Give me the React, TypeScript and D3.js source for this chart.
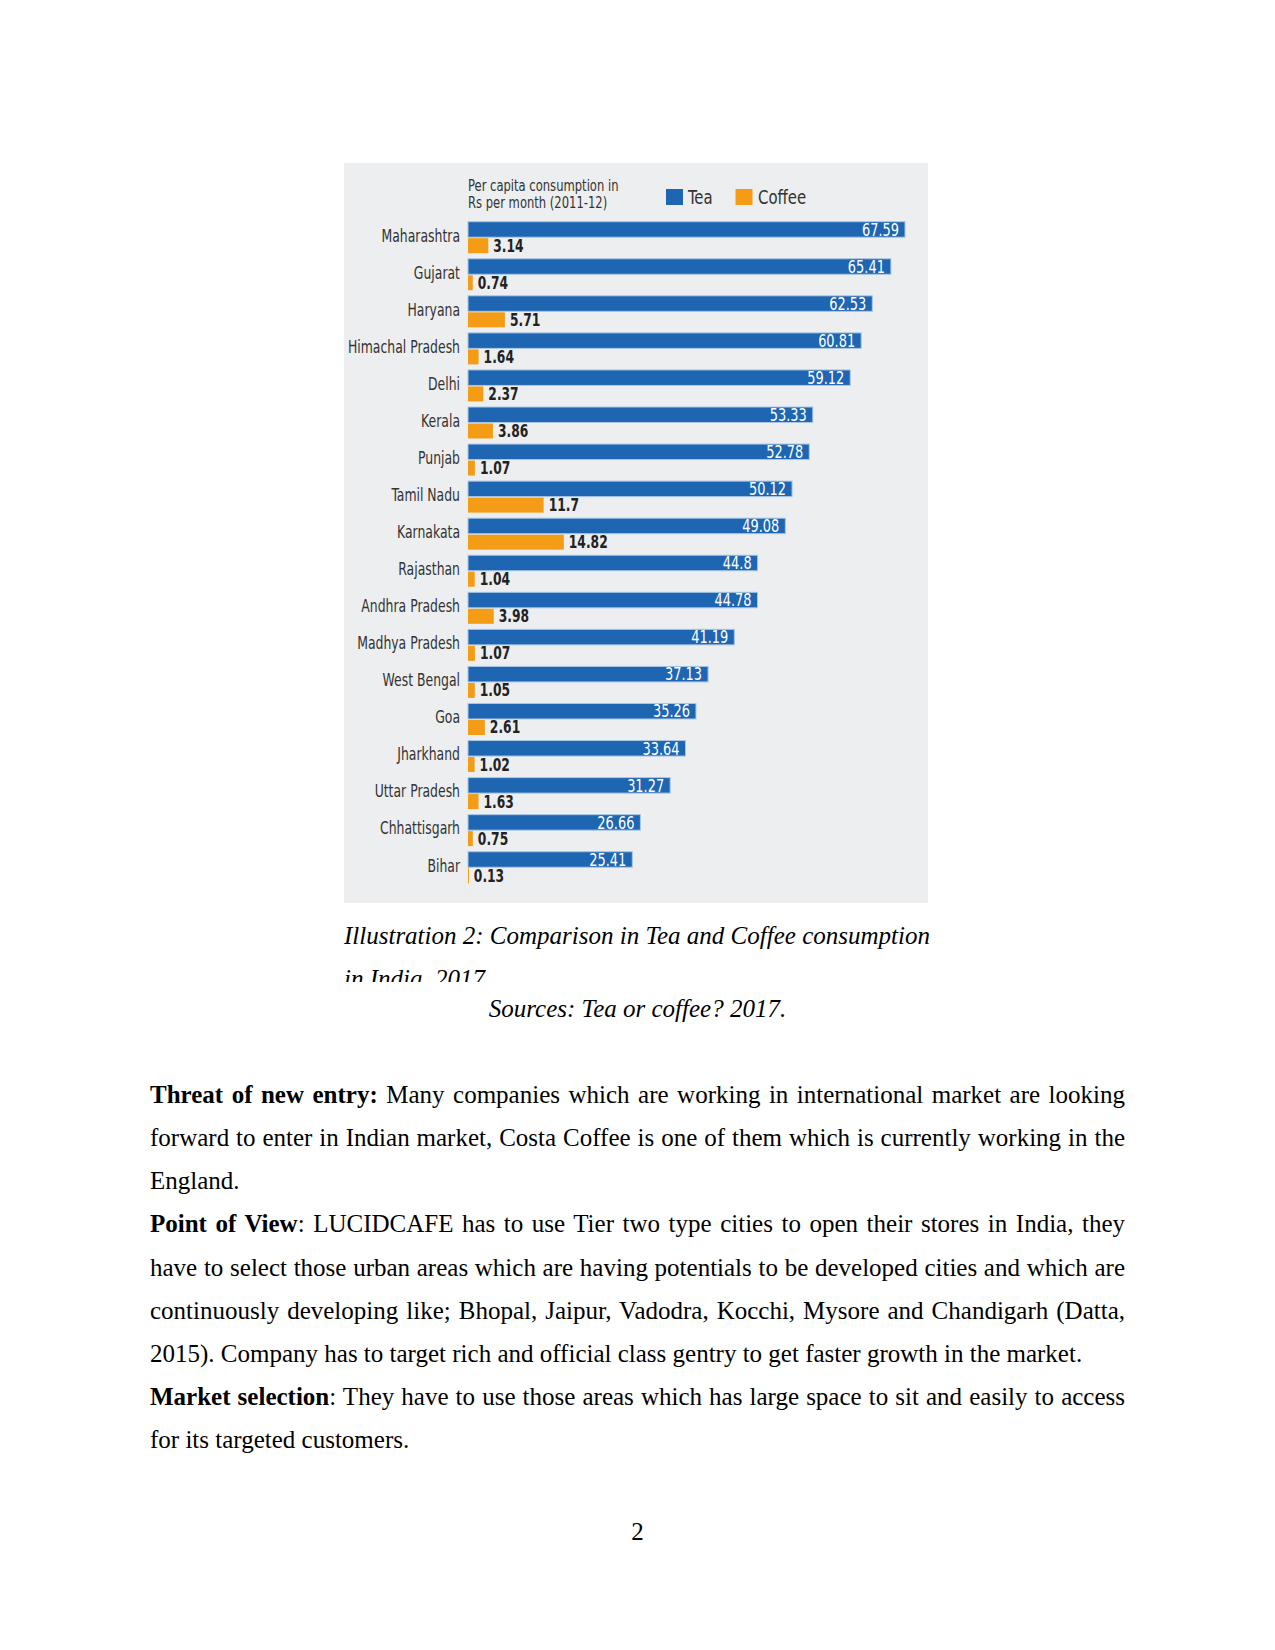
import React, { useEffect, useRef } from "react";
import * as d3 from "d3";

const states = [
  "Maharashtra", "Gujarat", "Haryana", "Himachal Pradesh", "Delhi", "Kerala",
  "Punjab", "Tamil Nadu", "Karnakata", "Rajasthan", "Andhra Pradesh",
  "Madhya Pradesh", "West Bengal", "Goa", "Jharkhand", "Uttar Pradesh",
  "Chhattisgarh", "Bihar",
];
const teaValues = [
  67.59, 65.41, 62.53, 60.81, 59.12, 53.33, 52.78, 50.12, 49.08, 44.8, 44.78,
  41.19, 37.13, 35.26, 33.64, 31.27, 26.66, 25.41,
];
const coffeeValues = [
  3.14, 0.74, 5.71, 1.64, 2.37, 3.86, 1.07, 11.7, 14.82, 1.04, 3.98, 1.07,
  1.05, 2.61, 1.02, 1.63, 0.75, 0.13,
];
const seriesNames = ["Tea", "Coffee"];
const headerLines = ["Per capita consumption in", "Rs per month (2011-12)"];

const captionLines = [
  "Illustration 2: Comparison in Tea and Coffee consumption",
  "in India, 2017",
];
const sourceText = "Sources: Tea or coffee? 2017.";

const bodyLines = [
  { bold: "Threat of new entry:", rest: " Many companies which are working in international market are looking", justify: true },
  { bold: "", rest: "forward to enter in Indian market, Costa Coffee is one of them which is currently working in the", justify: true },
  { bold: "", rest: "England.", justify: false },
  { bold: "Point of View", rest: ": LUCIDCAFE has to use Tier two type cities to open their stores in India, they", justify: true },
  { bold: "", rest: "have to select those urban areas which are having potentials to be developed cities and which are", justify: true },
  { bold: "", rest: "continuously developing like; Bhopal, Jaipur, Vadodra, Kocchi, Mysore and Chandigarh (Datta,", justify: true },
  { bold: "", rest: "2015). Company has to target rich and official class gentry to get faster growth in the market.", justify: false },
  { bold: "Market selection", rest: ": They have to use those areas which has large space to sit and easily to access", justify: true },
  { bold: "", rest: "for its targeted customers.", justify: false },
];

const TEA = "#1e65b2";
const COFFEE = "#f59c17";
const chartFont = "'DejaVu Sans Condensed', 'DejaVu Sans', sans-serif";
const serif = "'Liberation Serif', 'DejaVu Serif', serif";

function NText(props: {
  x: number;
  y: number;
  sx: number;
  anchor?: string;
  size: number;
  fill: string;
  weight?: string;
  children: React.ReactNode;
}) {
  return (
    <text
      transform={`translate(${props.x},${props.y}) scale(${props.sx},1)`}
      dy="0.36em"
      textAnchor={props.anchor || "start"}
      fontFamily={chartFont}
      fontSize={props.size}
      fontWeight={props.weight || "normal"}
      fill={props.fill}
    >
      {props.children}
    </text>
  );
}

export default function App() {
  const ref = useRef<SVGSVGElement>(null);

  const x = d3.scaleLinear().domain([0, 67.59]).range([468, 905]);
  const y = d3
    .scaleBand<string>()
    .domain(states)
    .range([221.7, 221.7 + 37.06 * states.length])
    .padding(0);
  const rows = states.map((s, i) => ({ s, tea: teaValues[i], coffee: coffeeValues[i] }));

  const textLeft = 150;
  const textRight = 1125;
  const lineY = d3.scaleLinear().domain([0, 1]).range([1103, 1146.13]);

  useEffect(() => {
    if (!ref.current) return;
    d3.select(ref.current)
      .selectAll<SVGTextElement, unknown>("text.justify")
      .each(function () {
        const el = this;
        el.style.wordSpacing = "0px";
        const w = el.getComputedTextLength();
        const txt = el.textContent || "";
        const spaces = (txt.match(/ /g) || []).length;
        if (spaces > 0) {
          el.style.wordSpacing = `${(textRight - textLeft - w) / spaces}px`;
        }
      });
  }, []);

  return (
    <svg
      ref={ref}
      width={1275}
      height={1650}
      style={{ position: "absolute", left: 0, top: 0, background: "#fff" }}
    >
      <defs>
        <clipPath id="capclip">
          <rect x={300} y={900} width={700} height={82} />
        </clipPath>
      </defs>
      <rect x={0} y={0} width={1275} height={1650} fill="#fff" />

      {/* chart panel */}
      <rect x={344} y={163} width={584} height={740} fill="#eceef0" />

      {/* header */}
      {headerLines.map((t, i) => (
        <NText key={t} x={468} y={185 + i * 17} sx={0.83} size={15.5} fill="#333">
          {t}
        </NText>
      ))}

      {/* legend */}
      {seriesNames.map((n, i) => (
        <g key={n}>
          <rect
            x={666 + i * 69.5}
            y={189}
            width={17}
            height={16}
            fill={i === 0 ? TEA : COFFEE}
          />
          <NText x={688 + i * 70} y={197} sx={0.85} size={19.5} fill="#333">
            {n}
          </NText>
        </g>
      ))}

      {/* bars */}
      {rows.map((r) => {
        const y0 = y(r.s) as number;
        return (
          <g key={r.s}>
            <NText x={460} y={y0 + 13.5} sx={0.79} anchor="end" size={17.5} fill="#333">
              {r.s}
            </NText>
            <rect
              x={x(0)}
              y={y0}
              width={x(r.tea) - x(0)}
              height={15.5}
              fill={TEA}
              stroke="#a8c7e6"
              strokeWidth={1}
            />
            <NText x={x(r.tea) - 6} y={y0 + 7.5} sx={0.8} anchor="end" size={18} fill="#fff">
              {r.tea}
            </NText>
            <rect
              x={x(0)}
              y={y0 + 16.5}
              width={Math.max(1, x(r.coffee) - x(0))}
              height={15}
              fill={COFFEE}
            />
            <NText
              x={x(r.coffee) + 5}
              y={y0 + 23.5}
              sx={0.76}
              size={18}
              weight="bold"
              fill="#222"
            >
              {r.coffee}
            </NText>
          </g>
        );
      })}

      {/* caption */}
      <g clipPath="url(#capclip)">
        {captionLines.map((t, i) => (
          <text
            key={t}
            x={344}
            y={944 + i * 43}
            fontFamily={serif}
            fontStyle="italic"
            fontSize={25}
            fill="#000"
          >
            {t}
          </text>
        ))}
      </g>
      <text
        x={637.5}
        y={1017}
        textAnchor="middle"
        fontFamily={serif}
        fontStyle="italic"
        fontSize={25}
        fill="#000"
      >
        {sourceText}
      </text>

      {/* body text */}
      {bodyLines.map((l, i) => (
        <text
          key={i}
          className={l.justify ? "justify" : ""}
          x={textLeft}
          y={lineY(i)}
          fontFamily={serif}
          fontSize={25}
          fill="#000"
          style={{ whiteSpace: "pre" }}
        >
          {l.bold ? <tspan fontWeight="bold">{l.bold}</tspan> : null}
          {l.rest}
        </text>
      ))}

      <text
        x={637.5}
        y={1540}
        textAnchor="middle"
        fontFamily={serif}
        fontSize={25}
        fill="#000"
      >
        2
      </text>
    </svg>
  );
}
